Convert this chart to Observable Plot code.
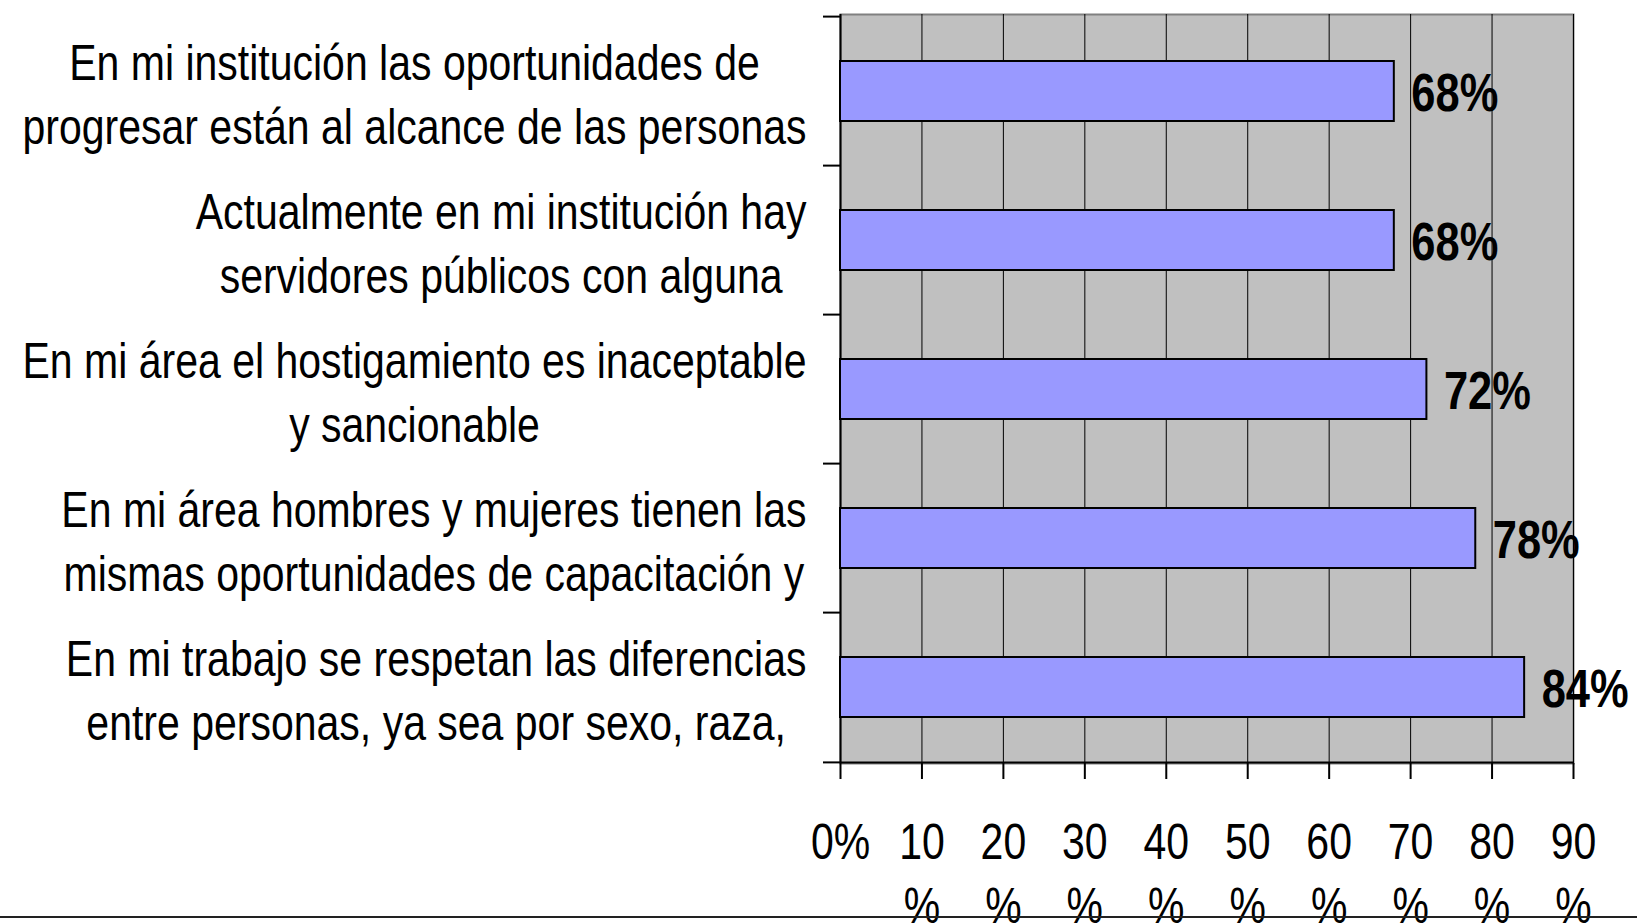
<!DOCTYPE html>
<html>
<head>
<meta charset="utf-8">
<script src="https://cdn.jsdelivr.net/npm/d3@7"></script>
<script src="https://cdn.jsdelivr.net/npm/@observablehq/plot@0.6"></script>
<style>
  html, body { margin: 0; padding: 0; background: #fff; }
  #wrap { position: relative; width: 1637px; height: 923px; overflow: hidden; }
  #baseline { position: absolute; left: 0; top: 916px; width: 1637px; height: 2px; background: #222; }
</style>
</head>
<body>
<div id="wrap"><div id="baseline"></div></div>
<script>
const categories = [
  "En mi institución las oportunidades de\nprogresar están al alcance de las personas",
  "Actualmente en mi institución hay\nservidores públicos con alguna",
  "En mi área el hostigamiento es inaceptable\ny sancionable",
  "En mi área hombres y mujeres tienen las\nmismas oportunidades de capacitación y",
  "En mi trabajo se respetan las diferencias\nentre personas, ya sea por sexo, raza,"
];
const values = [68, 68, 72, 78, 84];
const xTicks = [0, 10, 20, 30, 40, 50, 60, 70, 80, 90];

const data = categories.map((c, i) => ({label: c, value: values[i]}));

const FONT = '"Liberation Sans", Arial, sans-serif';
const NARROW = 0.82; // Arial Narrow ≈ 82% of Arial width
const W = 1637, H = 923, mL = 840, mR = 64, mT = 14, mB = 160;
const step = (H - mT - mB) / categories.length;

const ctx = document.createElement("canvas").getContext("2d");
ctx.font = `50px ${FONT}`;
const blockWidth = s => NARROW * Math.max(...s.split("\n").map(l => ctx.measureText(l).width));

const labelMarks = data.map(d => Plot.text([d], {
  frameAnchor: "left", y: "label", text: "label",
  textAnchor: "middle", lineAnchor: "middle", lineHeight: 1.27,
  fontSize: 50, fill: "black",
  dx: -(34 + blockWidth(d.label) / 2), dy: 0
}));

const chart = Plot.plot({
  width: W, height: H,
  marginLeft: mL, marginRight: mR, marginTop: mT, marginBottom: mB,
  style: {fontFamily: FONT, fontSize: "50px", color: "black", background: "transparent", overflow: "visible"},
  x: {domain: [0, 90], label: null},
  y: {domain: categories, paddingInner: 0.6, paddingOuter: 0.3, axis: null, label: null},
  marks: [
    Plot.frame({fill: "#c0c0c0", stroke: "#808080", strokeWidth: 2}),
    Plot.gridX(xTicks, {stroke: "black", strokeOpacity: 1, strokeWidth: 1}),
    Plot.ruleX([0], {stroke: "black", strokeWidth: 2}),
    Plot.ruleY([categories[categories.length - 1]], {dy: step / 2, stroke: "black", strokeWidth: 2}),
    Plot.axisY(categories, {anchor: "left", label: null, tickSize: 17, tickFormat: () => "", dy: -step / 2, stroke: "black", strokeWidth: 2}),
    Plot.axisY([categories[categories.length - 1]], {anchor: "left", label: null, tickSize: 17, tickFormat: () => "", dy: step / 2, stroke: "black", strokeWidth: 2}),
    Plot.axisX(xTicks, {anchor: "bottom", label: null, tickSize: 16, tickPadding: 34, strokeWidth: 2,
      tickFormat: d => d === 0 ? "0%" : d + "\n%", fontSize: 50, lineHeight: 1.28}),
    Plot.barX(data, {x: "value", y: "label", fill: "#9999ff", stroke: "black", strokeWidth: 2}),
    Plot.text(data, {x: "value", y: "label", text: d => d.value + "%", textAnchor: "start",
      dx: 17, dy: 3, fontSize: 53, fontWeight: "bold", fill: "black"}),
    ...labelMarks
  ]
});

// Emulate the narrow typeface by compressing every text horizontally around its anchor.
chart.querySelectorAll("text").forEach(t => {
  const tr = t.getAttribute("transform") || "";
  t.setAttribute("transform", (tr + ` scale(${NARROW},1)`).trim());
});

document.getElementById("wrap").prepend(chart);
</script>
</body>
</html>
